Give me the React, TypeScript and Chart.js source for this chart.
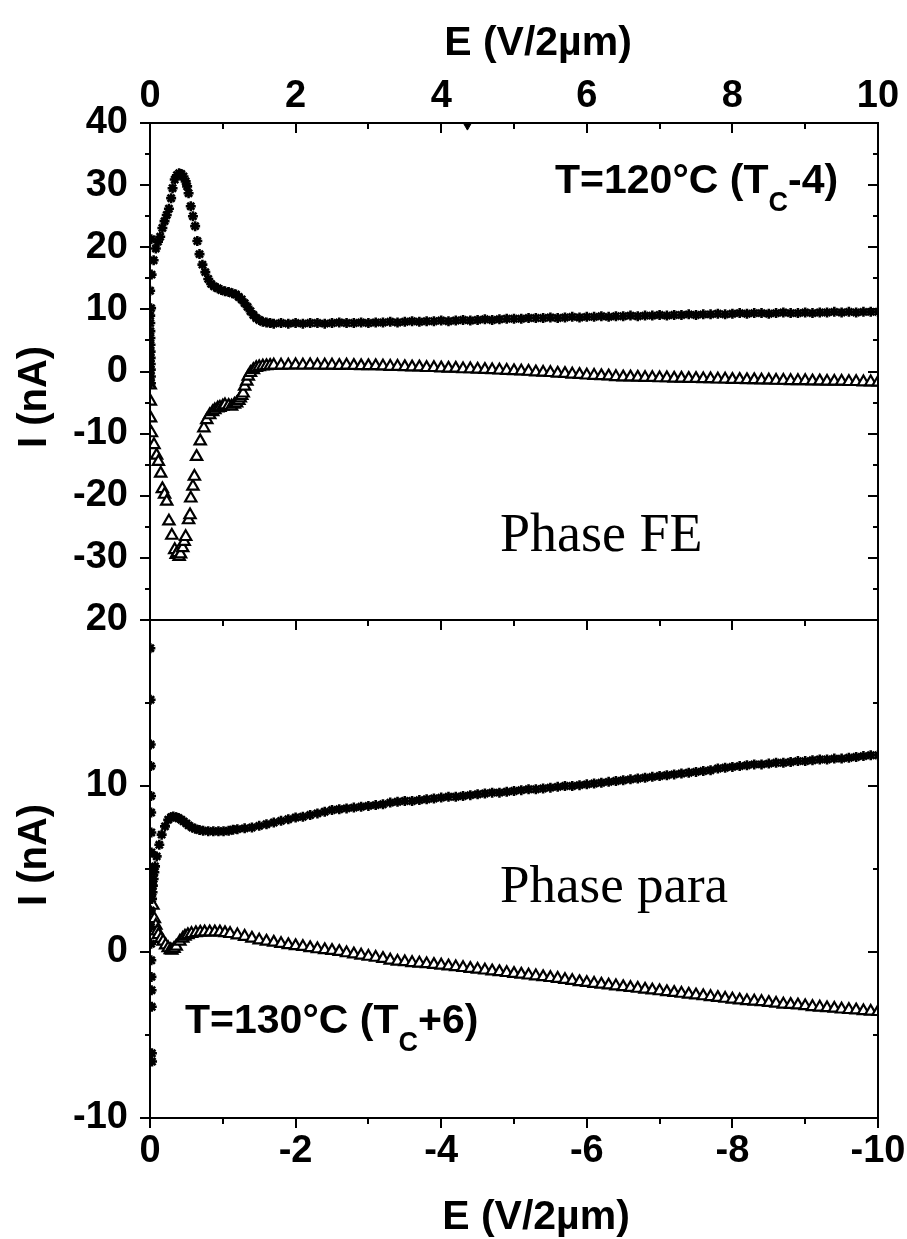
import React, { useEffect, useRef } from "react";
import { Chart, registerables } from "chart.js";

Chart.register(...registerables);

const SANS = '"Liberation Sans", Arial, Helvetica, sans-serif';
const SERIF = '"Liberation Serif", "Times New Roman", Times, serif';

// ---------- Top panel (T = 120 °C), E in V/2µm, I in nA ----------
const topUpper: [number, number][] = [
  [0.002, 13.0], [0.003, 9.0], [0.004, 7.8], [0.005, 6.5], [0.006, 5.4], [0.007, 4.3], [0.008, 3.2],
  [0.009, 2.2], [0.01, 1.2], [0.011, 0.3], [0.012, -0.8], [0.013, -1.9], [0.015, 10.2], [0.018, 21.3],
  [0.022, 15.6], [0.05, 17.9], [0.08, 19.8], [0.11, 20.9], [0.14, 21.7], [0.17, 23.1], [0.2, 24.2],
  [0.23, 25.2], [0.26, 26.2], [0.29, 27.9], [0.31, 29.5], [0.34, 30.9], [0.37, 31.6], [0.4, 31.9],
  [0.43, 31.8], [0.46, 31.4], [0.49, 30.6], [0.51, 29.8], [0.53, 28.7], [0.56, 26.6], [0.59, 25.0],
  [0.62, 23.4], [0.65, 21.0], [0.68, 18.9], [0.72, 17.2], [0.76, 16.0], [0.8, 14.9], [0.84, 14.1],
  [0.88, 13.7], [0.93, 13.4], [0.98, 13.1], [1.03, 12.9], [1.08, 12.8], [1.13, 12.6], [1.18, 12.4],
  [1.22, 12.0], [1.26, 11.6], [1.3, 11.0], [1.34, 10.4], [1.38, 9.7], [1.42, 9.1], [1.46, 8.6],
  [1.5, 8.3], [1.55, 8.0], [1.6, 7.9], [1.65, 7.8], [1.7, 7.7],
  [1.8, 7.8], [1.9, 7.7], [2.0, 7.8], [2.1, 7.7], [2.2, 7.8], [2.3, 7.8], [2.4, 7.7], [2.5, 7.8],
  [2.6, 7.9], [2.7, 7.8], [2.8, 7.8], [2.9, 7.9], [3.0, 7.8], [3.1, 7.9], [3.2, 7.9], [3.3, 8.0],
  [3.4, 7.9], [3.5, 8.0], [3.6, 8.1], [3.7, 8.0], [3.8, 8.1], [3.9, 8.1], [4.0, 8.2], [4.1, 8.1],
  [4.2, 8.2], [4.3, 8.3], [4.4, 8.2], [4.5, 8.3], [4.6, 8.4], [4.7, 8.3], [4.8, 8.4], [4.9, 8.5],
  [5.0, 8.5], [5.1, 8.5], [5.2, 8.6], [5.3, 8.6], [5.4, 8.6], [5.5, 8.7], [5.6, 8.6], [5.7, 8.7],
  [5.8, 8.8], [5.9, 8.7], [6.0, 8.8], [6.1, 8.8], [6.2, 8.9], [6.3, 8.8], [6.4, 8.9], [6.5, 8.9],
  [6.6, 9.0], [6.7, 8.9], [6.8, 9.0], [6.9, 9.0], [7.0, 9.1], [7.1, 9.0], [7.2, 9.1], [7.3, 9.1],
  [7.4, 9.2], [7.5, 9.1], [7.6, 9.2], [7.7, 9.2], [7.8, 9.3], [7.9, 9.2], [8.0, 9.3], [8.1, 9.4],
  [8.2, 9.3], [8.3, 9.4], [8.4, 9.4], [8.5, 9.3], [8.6, 9.4], [8.7, 9.5], [8.8, 9.4], [8.9, 9.4],
  [9.0, 9.5], [9.1, 9.4], [9.2, 9.5], [9.3, 9.5], [9.4, 9.6], [9.5, 9.5], [9.6, 9.6], [9.7, 9.5],
  [9.8, 9.6], [9.9, 9.6], [10.0, 9.6],
];

const topLower: [number, number][] = [
  [0.003, -2.2], [0.005, -4.8], [0.008, -7.5], [0.02, -9.9], [0.055, -11.8], [0.09, -13.5],
  [0.115, -14.5], [0.147, -16.4], [0.17, -18.9], [0.2, -19.8], [0.23, -20.9], [0.26, -24.1],
  [0.3, -26.4], [0.34, -28.7], [0.36, -29.5], [0.375, -29.2], [0.4, -29.8], [0.42, -29.4],
  [0.45, -28.4], [0.47, -27.4], [0.49, -26.6], [0.53, -23.9], [0.55, -23.1], [0.56, -20.4],
  [0.59, -18.5], [0.61, -16.9], [0.64, -13.7], [0.69, -11.2], [0.74, -9.1], [0.78, -7.8],
  [0.82, -7.0], [0.86, -6.5], [0.89, -6.2], [0.93, -5.9], [0.96, -5.8], [1.0, -5.6], [1.03, -5.4],
  [1.08, -5.5], [1.12, -5.6], [1.16, -5.3], [1.19, -5.1], [1.22, -4.7], [1.24, -4.3], [1.26, -3.9],
  [1.28, -3.5], [1.3, -2.4], [1.33, -1.6], [1.35, -0.8], [1.38, -0.2], [1.42, 0.27], [1.46, 0.6],
  [1.5, 0.75], [1.55, 0.85], [1.6, 0.9], [1.65, 0.95], [1.7, 1.0],
  [1.8, 1.0], [1.9, 1.0], [2.0, 1.05], [2.1, 1.0], [2.2, 1.05], [2.3, 1.0], [2.4, 1.0], [2.5, 1.0],
  [2.6, 0.95], [2.7, 1.0], [2.8, 0.95], [2.9, 0.9], [3.0, 0.9], [3.1, 0.9], [3.2, 0.85], [3.3, 0.8],
  [3.4, 0.8], [3.5, 0.75], [3.6, 0.7], [3.7, 0.7], [3.8, 0.6], [3.9, 0.6], [4.0, 0.55], [4.1, 0.5],
  [4.2, 0.5], [4.3, 0.4], [4.4, 0.4], [4.5, 0.35], [4.6, 0.3], [4.7, 0.25], [4.8, 0.2], [4.9, 0.15],
  [5.0, 0.1], [5.1, 0.05], [5.2, 0.0], [5.3, -0.1], [5.4, -0.15], [5.5, -0.2], [5.6, -0.3],
  [5.7, -0.35], [5.8, -0.45], [5.9, -0.5], [6.0, -0.6], [6.1, -0.65], [6.2, -0.7], [6.3, -0.75],
  [6.4, -0.85], [6.5, -0.9], [6.6, -0.9], [6.7, -0.95], [6.8, -1.0], [6.9, -1.0], [7.0, -1.05],
  [7.1, -1.05], [7.2, -1.1], [7.3, -1.1], [7.4, -1.15], [7.5, -1.15], [7.6, -1.2], [7.7, -1.2],
  [7.8, -1.25], [7.9, -1.25], [8.0, -1.3], [8.1, -1.3], [8.2, -1.35], [8.3, -1.35], [8.4, -1.4],
  [8.5, -1.4], [8.6, -1.45], [8.7, -1.45], [8.8, -1.5], [8.9, -1.5], [9.0, -1.5], [9.1, -1.55],
  [9.2, -1.55], [9.3, -1.6], [9.4, -1.6], [9.5, -1.6], [9.6, -1.65], [9.7, -1.65], [9.8, -1.7],
  [9.9, -1.7], [10.0, -1.75],
];

const topOutlier: [number, number][] = [[4.36, 39.5]];

// ---------- Bottom panel (T = 130 °C) ----------
const botUpper: [number, number][] = [
  [-0.005, 18.3], [-0.008, 15.2], [-0.01, 12.5], [-0.012, 11.2], [-0.014, 9.4], [-0.016, 8.4],
  [-0.018, 7.2], [-0.02, 6.0], [-0.022, 5.0], [-0.025, 4.1], [-0.028, 3.2], [-0.012, 2.5],
  [-0.014, 1.5], [-0.016, 0.5], [-0.018, -0.5], [-0.02, -1.5], [-0.022, -2.3], [-0.024, -3.3],
  [-0.026, -6.1], [-0.028, -6.6], [-0.035, 3.6], [-0.04, 4.0], [-0.05, 4.4], [-0.06, 4.8],
  [-0.069, 5.16], [-0.092, 5.76], [-0.128, 6.46], [-0.16, 7.07], [-0.206, 7.57], [-0.25, 7.97],
  [-0.29, 8.12], [-0.32, 8.17], [-0.36, 8.12], [-0.39, 8.07], [-0.43, 7.97], [-0.46, 7.87],
  [-0.5, 7.75], [-0.53, 7.63], [-0.58, 7.5], [-0.62, 7.43], [-0.68, 7.35], [-0.73, 7.3],
  [-0.8, 7.28], [-0.87, 7.27], [-0.94, 7.27], [-1.01, 7.27], [-1.08, 7.3], [-1.14, 7.37],
  [-1.2, 7.4], [-1.3, 7.45], [-1.4, 7.5], [-1.5, 7.6], [-1.6, 7.7], [-1.7, 7.8], [-1.8, 7.9],
  [-1.9, 8.0], [-2.0, 8.1], [-2.1, 8.15], [-2.2, 8.25], [-2.3, 8.35], [-2.4, 8.45], [-2.5, 8.55],
  [-2.6, 8.6], [-2.7, 8.65], [-2.8, 8.7], [-2.9, 8.75], [-3.0, 8.8], [-3.1, 8.85], [-3.2, 8.9],
  [-3.3, 9.0], [-3.4, 9.05], [-3.5, 9.1], [-3.6, 9.1], [-3.7, 9.15], [-3.8, 9.2], [-3.9, 9.25],
  [-4.0, 9.3], [-4.1, 9.35], [-4.2, 9.35], [-4.3, 9.4], [-4.4, 9.45], [-4.5, 9.5], [-4.6, 9.55],
  [-4.7, 9.6], [-4.8, 9.6], [-4.9, 9.65], [-5.0, 9.7], [-5.1, 9.75], [-5.2, 9.8], [-5.3, 9.8],
  [-5.4, 9.85], [-5.5, 9.9], [-5.6, 9.95], [-5.7, 10.0], [-5.8, 10.0], [-5.9, 10.05], [-6.0, 10.1],
  [-6.1, 10.15], [-6.2, 10.2], [-6.3, 10.25], [-6.4, 10.3], [-6.5, 10.35], [-6.6, 10.4],
  [-6.7, 10.45], [-6.8, 10.5], [-6.9, 10.55], [-7.0, 10.6], [-7.1, 10.65], [-7.2, 10.7],
  [-7.3, 10.75], [-7.4, 10.8], [-7.5, 10.85], [-7.6, 10.9], [-7.7, 10.95], [-7.8, 11.05],
  [-7.9, 11.1], [-8.0, 11.15], [-8.1, 11.2], [-8.2, 11.25], [-8.3, 11.3], [-8.4, 11.3],
  [-8.5, 11.35], [-8.6, 11.4], [-8.7, 11.4], [-8.8, 11.45], [-8.9, 11.5], [-9.0, 11.5],
  [-9.1, 11.55], [-9.2, 11.6], [-9.3, 11.6], [-9.4, 11.65], [-9.5, 11.65], [-9.6, 11.7],
  [-9.7, 11.75], [-9.8, 11.8], [-9.9, 11.85], [-10.0, 11.85],
];

const botLower: [number, number][] = [
  [-0.04, 2.8], [-0.06, 2.0], [-0.08, 1.6], [-0.1, 1.25], [-0.115, 1.04], [-0.15, 0.8],
  [-0.18, 0.64], [-0.215, 0.42], [-0.25, 0.24], [-0.28, 0.12], [-0.3, 0.1], [-0.33, 0.2],
  [-0.36, 0.34], [-0.41, 0.64], [-0.45, 0.82], [-0.48, 0.94], [-0.52, 1.03], [-0.57, 1.1],
  [-0.63, 1.15], [-0.69, 1.18], [-0.75, 1.2], [-0.82, 1.2], [-0.89, 1.2], [-0.96, 1.2],
  [-1.03, 1.15], [-1.1, 1.1],
  [-1.2, 1.02], [-1.3, 0.93], [-1.4, 0.82], [-1.5, 0.71], [-1.6, 0.64], [-1.7, 0.58], [-1.8, 0.5],
  [-1.9, 0.43], [-2.0, 0.37], [-2.1, 0.32], [-2.2, 0.25], [-2.3, 0.18], [-2.4, 0.13], [-2.5, 0.08],
  [-2.6, 0.02], [-2.7, -0.06], [-2.8, -0.13], [-2.9, -0.2], [-3.0, -0.27], [-3.1, -0.33],
  [-3.2, -0.4], [-3.3, -0.5], [-3.4, -0.57], [-3.5, -0.6], [-3.6, -0.65], [-3.7, -0.68],
  [-3.8, -0.72], [-3.9, -0.76], [-4.0, -0.8], [-4.1, -0.85], [-4.2, -0.9], [-4.3, -0.95],
  [-4.4, -1.0], [-4.5, -1.05], [-4.6, -1.1], [-4.7, -1.15], [-4.8, -1.2], [-4.9, -1.25],
  [-5.0, -1.3], [-5.1, -1.35], [-5.2, -1.4], [-5.3, -1.45], [-5.4, -1.5], [-5.5, -1.55],
  [-5.6, -1.6], [-5.7, -1.67], [-5.8, -1.73], [-5.9, -1.8], [-6.0, -1.85], [-6.1, -1.9],
  [-6.2, -1.95], [-6.3, -2.0], [-6.4, -2.05], [-6.5, -2.1], [-6.6, -2.15], [-6.7, -2.2],
  [-6.8, -2.25], [-6.9, -2.3], [-7.0, -2.35], [-7.1, -2.4], [-7.2, -2.45], [-7.3, -2.5],
  [-7.4, -2.55], [-7.5, -2.6], [-7.6, -2.65], [-7.7, -2.7], [-7.8, -2.75], [-7.9, -2.8],
  [-8.0, -2.85], [-8.1, -2.9], [-8.2, -2.95], [-8.3, -2.97], [-8.4, -3.0], [-8.5, -3.05],
  [-8.6, -3.1], [-8.7, -3.15], [-8.8, -3.17], [-8.9, -3.2], [-9.0, -3.25], [-9.1, -3.3],
  [-9.2, -3.33], [-9.3, -3.37], [-9.4, -3.4], [-9.5, -3.45], [-9.6, -3.48], [-9.7, -3.5],
  [-9.8, -3.55], [-9.9, -3.58], [-10.0, -3.6],
];

// ---------- Ticks ----------
const topXTicks = [0, 2, 4, 6, 8, 10];
const topXMinor = [1, 3, 5, 7, 9];
const topYTicks = [-40, -30, -20, -10, 0, 10, 20, 30, 40];
const topYMinor = [-35, -25, -15, -5, 5, 15, 25, 35];
const botXTicks = [0, -2, -4, -6, -8, -10];
const botXMinor = [-1, -3, -5, -7, -9];
const botYTicks = [-10, 0, 10, 20];
const botYMinor = [-5, 5, 15];

const tickFont = { family: SANS, size: 38, weight: "bold" as const, lineHeight: 1 };

function toPts(arr: [number, number][]) {
  return arr.map(([x, y]) => ({ x, y }));
}

function starSet(arr: [number, number][]) {
  return {
    data: toPts(arr),
    showLine: false,
    pointStyle: "star",
    pointRadius: 5,
    pointBorderWidth: 2.6,
    pointBorderColor: "#000",
    pointBackgroundColor: "#000",
    borderColor: "#000",
    backgroundColor: "#000",
  };
}

function triSet(arr: [number, number][]) {
  return {
    data: toPts(arr),
    showLine: false,
    pointStyle: "triangle",
    pointRadius: 6.5,
    pointBorderWidth: 2.2,
    pointBorderColor: "#000",
    pointBackgroundColor: "#fff",
    borderColor: "#000",
    backgroundColor: "#fff",
  };
}

function zeroPad(s: any) {
  s.paddingTop = 0;
  s.paddingBottom = 0;
  s.paddingLeft = 0;
  s.paddingRight = 0;
}

type TickSpec = {
  xMajor: number[];
  xMinor: number[];
  yMajor: number[];
  yMinor: number[];
  bottomTicks: boolean;
};

function drawFrame(chart: any, spec: TickSpec) {
  const { ctx, chartArea: a } = chart;
  const xs = chart.scales.x;
  const ys = chart.scales.y;
  ctx.save();
  ctx.strokeStyle = "#000";
  ctx.lineWidth = 2;
  ctx.strokeRect(a.left, a.top, a.right - a.left, a.bottom - a.top);
  ctx.beginPath();
  const seg = (x1: number, y1: number, x2: number, y2: number) => {
    ctx.moveTo(x1, y1);
    ctx.lineTo(x2, y2);
  };
  const yTick = (v: number, len: number) => {
    const p = Math.round(ys.getPixelForValue(v));
    seg(a.left - len, p, a.left, p);
    seg(a.right - len, p, a.right, p);
  };
  const xTick = (v: number, len: number) => {
    const p = Math.round(xs.getPixelForValue(v));
    seg(p, a.top, p, a.top + len);
    if (spec.bottomTicks) seg(p, a.bottom, p, a.bottom + len);
  };
  spec.yMajor.forEach((v) => yTick(v, 10));
  spec.yMinor.forEach((v) => yTick(v, 5));
  spec.xMajor.forEach((v) => xTick(v, 10));
  spec.xMinor.forEach((v) => xTick(v, 6));
  ctx.stroke();
  ctx.restore();
}

function drawRich(
  ctx: CanvasRenderingContext2D,
  x: number,
  y: number,
  parts: { t: string; sub?: boolean }[],
  size: number,
  subSize: number,
  drop: number
) {
  let cx = x;
  ctx.textBaseline = "alphabetic";
  ctx.textAlign = "left";
  for (const p of parts) {
    ctx.font = `bold ${p.sub ? subSize : size}px ${SANS}`;
    ctx.fillText(p.t, cx, p.sub ? y + drop : y);
    cx += ctx.measureText(p.t).width;
  }
}

function drawYTitle(ctx: CanvasRenderingContext2D, cx: number, cy: number) {
  ctx.save();
  ctx.translate(cx, cy);
  ctx.rotate(-Math.PI / 2);
  ctx.font = `bold 40px ${SANS}`;
  ctx.textAlign = "center";
  ctx.textBaseline = "middle";
  ctx.fillStyle = "#000";
  ctx.fillText("I (nA)", 0, 0);
  ctx.restore();
}

function topConfig(): any {
  return {
    type: "scatter",
    data: {
      datasets: [
        starSet(topUpper),
        triSet(topLower),
        {
          data: toPts(topOutlier),
          showLine: false,
          pointStyle: "triangle",
          pointRotation: 180,
          rotation: 180,
          pointRadius: 4,
          pointBorderColor: "#000",
          pointBackgroundColor: "#000",
        },
      ],
    },
    options: {
      animation: false,
      responsive: false,
      devicePixelRatio: 1,
      layout: { padding: { left: 0, right: 29, top: 0, bottom: 20 } },
      plugins: { legend: { display: false }, tooltip: { enabled: false } },
      scales: {
        x: {
          type: "linear",
          position: "top",
          min: 0,
          max: 10,
          afterBuildTicks: (s: any) => {
            s.ticks = topXTicks.map((v) => ({ value: v }));
          },
          afterFit: (s: any) => {
            s.height = 123;
            zeroPad(s);
          },
          ticks: {
            font: tickFont,
            color: "#000",
            padding: 7,
            maxRotation: 0,
            autoSkip: false,
            callback: (v: number) => String(v),
          },
          grid: { display: false, drawTicks: false },
          border: { display: false },
        },
        y: {
          type: "linear",
          position: "left",
          min: -40,
          max: 40,
          afterBuildTicks: (s: any) => {
            s.ticks = topYTicks.map((v) => ({ value: v }));
          },
          afterFit: (s: any) => {
            s.width = 150;
            zeroPad(s);
          },
          ticks: {
            font: tickFont,
            color: "#000",
            padding: 22,
            autoSkip: false,
            callback: (v: number) => (v === -40 ? "" : String(v)),
          },
          grid: { display: false, drawTicks: false },
          border: { display: false },
        },
      },
    },
    plugins: [
      {
        id: "topDeco",
        afterDraw(chart: any) {
          drawFrame(chart, {
            xMajor: topXTicks,
            xMinor: topXMinor,
            yMajor: topYTicks,
            yMinor: topYMinor,
            bottomTicks: false,
          });
          const ctx: CanvasRenderingContext2D = chart.ctx;
          ctx.save();
          ctx.fillStyle = "#000";
          ctx.font = `bold 41px ${SANS}`;
          ctx.textAlign = "center";
          ctx.textBaseline = "alphabetic";
          ctx.fillText("E (V/2µm)", 538, 55);
          drawYTitle(ctx, 35, 397);
          drawRich(ctx, 555, 193, [{ t: "T=120°C (T" }, { t: "C", sub: true }, { t: "-4)" }], 41, 27, 18);
          ctx.font = `54px ${SERIF}`;
          ctx.textAlign = "left";
          ctx.textBaseline = "alphabetic";
          ctx.fillText("Phase FE", 500, 551);
          ctx.restore();
        },
      },
    ],
  };
}

function botConfig(): any {
  return {
    type: "scatter",
    data: {
      datasets: [starSet(botUpper), triSet(botLower)],
    },
    options: {
      animation: false,
      responsive: false,
      devicePixelRatio: 1,
      layout: { padding: { left: 0, right: 29, top: 20, bottom: 0 } },
      plugins: { legend: { display: false }, tooltip: { enabled: false } },
      scales: {
        x: {
          type: "linear",
          position: "bottom",
          min: -10,
          max: 0,
          reverse: true,
          afterBuildTicks: (s: any) => {
            s.ticks = botXTicks.map((v) => ({ value: v }));
          },
          afterFit: (s: any) => {
            s.height = 121;
            zeroPad(s);
          },
          ticks: {
            font: tickFont,
            color: "#000",
            padding: 15,
            maxRotation: 0,
            autoSkip: false,
            callback: (v: number) => String(v),
          },
          grid: { display: false, drawTicks: false },
          border: { display: false },
        },
        y: {
          type: "linear",
          position: "left",
          min: -10,
          max: 20,
          afterBuildTicks: (s: any) => {
            s.ticks = botYTicks.map((v) => ({ value: v }));
          },
          afterFit: (s: any) => {
            s.width = 150;
            zeroPad(s);
          },
          ticks: {
            font: tickFont,
            color: "#000",
            padding: 22,
            autoSkip: false,
            callback: (v: number) => String(v),
          },
          grid: { display: false, drawTicks: false },
          border: { display: false },
        },
      },
    },
    plugins: [
      {
        id: "botDeco",
        afterDraw(chart: any) {
          drawFrame(chart, {
            xMajor: botXTicks,
            xMinor: botXMinor,
            yMajor: botYTicks,
            yMinor: botYMinor,
            bottomTicks: true,
          });
          const ctx: CanvasRenderingContext2D = chart.ctx;
          ctx.save();
          ctx.fillStyle = "#000";
          ctx.font = `bold 41px ${SANS}`;
          ctx.textAlign = "center";
          ctx.textBaseline = "alphabetic";
          ctx.fillText("E (V/2µm)", 536, 629);
          drawYTitle(ctx, 35, 255);
          drawRich(ctx, 185, 433, [{ t: "T=130°C (T" }, { t: "C", sub: true }, { t: "+6)" }], 41, 27, 18);
          ctx.font = `53px ${SERIF}`;
          ctx.textAlign = "left";
          ctx.textBaseline = "alphabetic";
          ctx.fillText("Phase para", 500, 302);
          ctx.restore();
        },
      },
    ],
  };
}

export default function App() {
  const topRef = useRef<HTMLCanvasElement>(null);
  const botRef = useRef<HTMLCanvasElement>(null);

  useEffect(() => {
    const c1 = new Chart(topRef.current as HTMLCanvasElement, topConfig());
    const c2 = new Chart(botRef.current as HTMLCanvasElement, botConfig());
    return () => {
      c1.destroy();
      c2.destroy();
    };
  }, []);

  return (
    <div style={{ position: "absolute", left: 0, top: 0, width: 907, height: 1239, background: "#fff" }}>
      <canvas
        ref={topRef}
        width={907}
        height={640}
        style={{ position: "absolute", left: 0, top: 0, width: 907, height: 640 }}
      />
      <canvas
        ref={botRef}
        width={907}
        height={639}
        style={{ position: "absolute", left: 0, top: 600, width: 907, height: 639 }}
      />
    </div>
  );
}
